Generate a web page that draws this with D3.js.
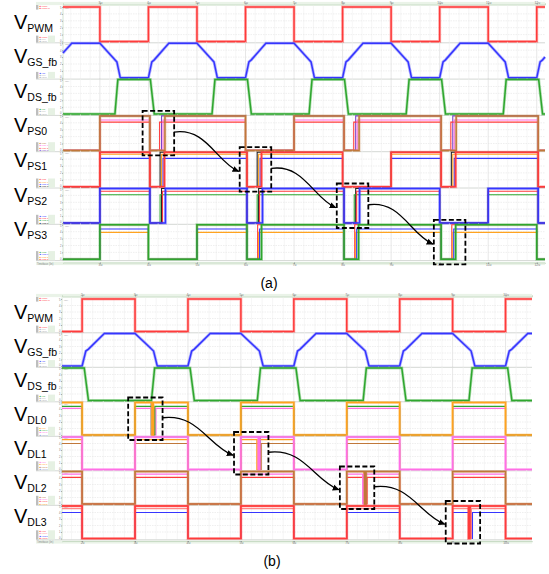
<!DOCTYPE html>
<html>
<head>
<meta charset="utf-8">
<script src="https://cdn.jsdelivr.net/npm/d3@7/dist/d3.min.js"></script>
<style>
body { margin: 0; background: #fff; }
svg text { font-family: "Liberation Sans", Arial, sans-serif; }
</style>
</head>
<body>
<script>
//////////////// Data: panel (a) ////////////////
var timeA = [2.24, 12.17];
var ticksA = [3, 4, 5, 6, 7, 8, 9, 10, 11, 12];
var namesA = ["PWM", "GS_fb", "DS_fb", "PS0", "PS1", "PS2", "PS3"];

var pwmA = [[2.24,5],[3,5],[3,0],[4,0],[4,5],[5,5],[5,0],[6,0],[6,5],[7,5],[7,0],[8,0],[8,5],[9,5],[9,0],
  [10,0],[10,5],[11,5],[11,0],[12,0],[12,5],[12.17,5]];
var gsA = [[2.24,3.6],[2.42,5],[3,5],[3.3,2.7],[3.35,2.3],[3.42,0],[4,0],[4.07,2.3],[4.12,2.6],[4.42,5],
  [5,5],[5.3,2.7],[5.35,2.3],[5.42,0],[6,0],[6.07,2.3],[6.12,2.6],[6.42,5],[7,5],[7.3,2.7],[7.35,2.3],[7.42,0],
  [8,0],[8.07,2.3],[8.12,2.6],[8.42,5],[9,5],[9.3,2.7],[9.35,2.3],[9.42,0],[10,0],[10.07,2.3],[10.12,2.6],[10.42,5],
  [11,5],[11.3,2.7],[11.35,2.3],[11.42,0],[12,0],[12.07,2.3],[12.12,2.6],[12.17,3.0]];
var dsA = [[2.24,0],[3.31,0],[3.37,5],[4.04,5],[4.12,0],[5.31,0],[5.37,5],[6.04,5],[6.12,0],[7.31,0],[7.37,5],
  [8.04,5],[8.12,0],[9.31,0],[9.37,5],[10.04,5],[10.12,0],[11.31,0],[11.37,5],[12.04,5],[12.12,0],[12.17,0]];

// phase-shift rows: long low intervals, short dips (start) and per-trace dip widths / high levels
var psLows = [
  [[2.24,3],[6,7]],
  [[2.24,3],[8,9]],
  [[2.24,3],[10,11]],
  [[2.24,3],[4,5],[12,12.17]]
];
var psDips = [
  [4.03, 8.03, 10.03, 12.03],
  [4.03, 6.03, 10.03, 12.03],
  [4.03, 6.03, 8.03, 12.03],
  [6.03, 8.03, 10.03]
];
var psLevels = [[5,4.4,4.1,5],[5,4.7,4.1,5],[5,4.6,4.1,5],[5,4.4,3.9,5]];
var psDipWidth = [[0.31,0.27,0.20,0.24],[0.30,0.24,0.27,0.21],[0.32,0.26,0.21,0.24],[0.30,0.26,0.24,0.22]];
var psMarked = [4.03, 6.03, 8.03, 10.03];

//////////////// Data: panel (b) ////////////////
var timeB = [1.62, 10.5];
var ticksB = [2, 3, 4, 5, 6, 7, 8, 9, 10];
var namesB = ["PWM", "GS_fb", "DS_fb", "DL0", "DL1", "DL2", "DL3"];

var pwmB = [[1.62,0],[2,0],[2,5],[3,5],[3,0],[4,0],[4,5],[5,5],[5,0],[6,0],[6,5],[7,5],[7,0],[8,0],[8,5],
  [9,5],[9,0],[10,0],[10,5],[10.5,5]];
var gsB = [[1.62,0],[2,0],[2.07,2.3],[2.12,2.6],[2.42,5],[3,5],[3.3,2.7],[3.35,2.3],[3.42,0],[4,0],[4.07,2.3],
  [4.12,2.6],[4.42,5],[5,5],[5.3,2.7],[5.35,2.3],[5.42,0],[6,0],[6.07,2.3],[6.12,2.6],[6.42,5],[7,5],[7.3,2.7],
  [7.35,2.3],[7.42,0],[8,0],[8.07,2.3],[8.12,2.6],[8.42,5],[9,5],[9.3,2.7],[9.35,2.3],[9.42,0],[10,0],[10.07,2.3],
  [10.12,2.6],[10.42,5],[10.5,5]];
var dsB = [[1.62,5],[2.04,5],[2.12,0],[3.31,0],[3.37,5],[4.04,5],[4.12,0],[5.31,0],[5.37,5],[6.04,5],[6.12,0],
  [7.31,0],[7.37,5],[8.04,5],[8.12,0],[9.31,0],[9.37,5],[10.04,5],[10.12,0],[10.5,0]];

var dlLows = [[2,3],[4,5],[6,7],[8,9],[10,10.5]];
var dlGlitch = [3.30, 5.30, 7.30, 9.30];
var dlLevels = [[5,4.4,4.1,5],[5,4.6,4.0,5],[5,4.6,4.1,5],[5,4.6,4.0,5]];
var dlShift = [[0.02,0.05,0.07,0.0],[0.03,0.0,0.06,0.045],[0.04,0.0,0.06,0.02],[0.0,0.03,0.05,0.015]];
var dlSpike = 0.025;

//////////////// Styles ////////////////
var cRed = "#ff3b3b", cBlue = "#3535ff", cGreen = "#2ea62e", cOrange = "#ffa31f", cPink = "#ff6fe6",
    cBrown = "#c0783a", cBlack = "#222", cPurple = "#7a44c8", cGrey = "#8a96c8";
var psColors = [[cBrown,cPink,cRed,cPurple],[cRed,cOrange,cBlue,cBlack],[cBlue,cRed,cGreen,cBlack],[cGreen,cBlue,cOrange,cRed]];
var dlColors = [[cOrange,cGreen,cPink,cGrey],[cPink,cOrange,cBrown,cGrey],[cBrown,cPink,cRed,cOrange],[cRed,"#ff8a8a",cBlue,cRed]];

//////////////// Helpers ////////////////
function stepPoints(t0, t1, lows, level) {
  var sorted = lows.slice().sort(function(p, q) { return p[0] - q[0]; });
  var startLow = sorted.some(function(l) { return l[0] <= t0 && l[1] > t0; });
  var pts = [[t0, startLow ? 0 : level]];
  sorted.forEach(function(l) {
    var a = Math.max(l[0], t0), b = Math.min(l[1], t1);
    if (b <= t0 || a >= t1) return;
    if (a > t0) { pts.push([a, level]); pts.push([a, 0]); }
    pts.push([b, 0]);
    if (b < t1) pts.push([b, level]);
  });
  var last = pts[pts.length - 1];
  if (last[0] < t1) pts.push([t1, last[1]]);
  return pts;
}

function psRow(r) {
  return psLevels[r].map(function(lv, k) {
    var lows = psLows[r].concat(psDips[r].map(function(d) { return [d, d + psDipWidth[r][k]]; }));
    return {pts: stepPoints(timeA[0], timeA[1], lows, lv), color: psColors[r][k], main: k === 0};
  });
}
function dlRow(r) {
  return dlLevels[r].map(function(lv, k) {
    var s = dlGlitch[r] + dlShift[r][k];
    var lows = dlLows.concat([[s, s + dlSpike]]);
    return {pts: stepPoints(timeB[0], timeB[1], lows, lv), color: dlColors[r][k], main: k === 0};
  });
}

var rowsA = [[{pts: pwmA, color: cRed, main: true}], [{pts: gsA, color: cBlue, main: true}],
  [{pts: dsA, color: cGreen, main: true}]].concat([0, 1, 2, 3].map(psRow));
var rowsB = [[{pts: pwmB, color: cRed, main: true}], [{pts: gsB, color: cBlue, main: true}],
  [{pts: dsB, color: cGreen, main: true}]].concat([0, 1, 2, 3].map(dlRow));

//////////////// SVG ////////////////
var svg = d3.select("body").append("svg").attr("width", 549).attr("height", 574);
var defs = svg.append("defs");
defs.append("marker").attr("id", "arr").attr("viewBox", "0 0 8 8").attr("refX", 7).attr("refY", 4)
  .attr("markerWidth", 7).attr("markerHeight", 7).attr("markerUnits", "userSpaceOnUse").attr("orient", "auto")
  .append("path").attr("d", "M0,0.5 L8,4 L0,7.5 Z").attr("fill", "#000");

function drawPanel(cfg) {
  var x = d3.scaleLinear().domain(cfg.time).range([cfg.x0, cfg.x1]);
  var g = svg.append("g");
  var minor = d3.range(Math.ceil(cfg.time[0] * 5) / 5, cfg.time[1], 0.2);
  var rowsY = [];

  // time axes
  [["top", cfg.axisTop], ["bottom", cfg.axisBot]].forEach(function(a) {
    g.append("rect").attr("x", 36).attr("y", a[1] - 1.6).attr("width", cfg.x1 - 36).attr("height", 3.2)
      .attr("fill", "#eaf3e8");
    var ax = (a[0] === "top" ? d3.axisTop(x) : d3.axisBottom(x)).tickValues(cfg.ticks).tickSize(1.2)
      .tickFormat(function(d) { return d + "u"; });
    g.append("g").attr("transform", "translate(0," + (a[0] === "top" ? a[1] + 1 : a[1] - 1) + ")").call(ax)
      .call(function(s) {
        s.select(".domain").attr("stroke", "#c9dcc6");
        s.selectAll(".tick line").attr("stroke", "#999");
        s.selectAll("text").attr("font-size", 3.4).attr("fill", "#777").attr("y", a[0] === "top" ? -0.6 : 0.8);
      });
  });
  g.append("text").attr("x", 37).attr("y", cfg.axisBot + 1.2).attr("font-size", 2.6).attr("fill", "#888")
    .text("Timebase (lin)");

  cfg.rows.forEach(function(traces, i) {
    var y5 = cfg.yTop + cfg.step * i, y0 = y5 + cfg.span;
    var y = d3.scaleLinear().domain([0, 5]).range([y0, y5]);
    rowsY.push({y5: y5, y0: y0});
    var r = g.append("g");

    // grid
    r.selectAll(null).data(minor).enter().append("line")
      .attr("x1", function(d) { return x(d); }).attr("x2", function(d) { return x(d); })
      .attr("y1", y5 - 1.5).attr("y2", y0 + 1.2)
      .attr("stroke", function(d) { return Math.abs(d - Math.round(d)) < 0.01 ? "#d6d6d6" : "#f0f0f0"; })
      .attr("stroke-width", 0.6);
    r.selectAll(null).data([1, 2, 3, 4]).enter().append("line")
      .attr("x1", cfg.x0).attr("x2", cfg.x1).attr("y1", y).attr("y2", y)
      .attr("stroke", "#e4e4e4").attr("stroke-width", 0.6).attr("stroke-dasharray", "1.5,1");
    // row separator and left rule
    r.append("line").attr("x1", 36).attr("x2", cfg.x1).attr("y1", y0 + 1.3).attr("y2", y0 + 1.3)
      .attr("stroke", "#d4d8d4").attr("stroke-width", 1);
    r.append("line").attr("x1", cfg.x0).attr("x2", cfg.x0).attr("y1", y5 - 1.5).attr("y2", y0 + 1.3)
      .attr("stroke", "#c8dcc8").attr("stroke-width", 0.8);
    r.append("g").attr("transform", "translate(" + cfg.x0 + ",0)")
      .call(d3.axisLeft(y).tickValues([0, 1, 2, 3, 4, 5]).tickSize(1).tickFormat(d3.format("d")))
      .call(function(s) {
        s.select(".domain").remove();
        s.selectAll("line").attr("stroke", "#aaa");
        s.selectAll("text").attr("font-size", 2.7).attr("fill", "#777").attr("x", -1.6)
          .attr("y", function(d) { return d === 5 ? 1 : (d === 0 ? -1 : 0); });
      });
    r.append("text").attr("x", cfg.x0 + 2).attr("y", y5 + 2).attr("font-size", 2.4).attr("fill", "#999")
      .text("(lin)");

    // legend, kept inside x 36..55 below the row label
    var short = cfg.names[i].replace("_fb", "").toLowerCase();
    var items = traces.map(function(t, k) { return {c: t.color, s: "V" + short + (k ? "." + k : "")}; });
    if (items.length < 3) items = items.concat([{c: "#aaa", s: "Vref"}, {c: "#aaa", s: "Vsum"}].slice(0, 3 - items.length));
    var h = items.length * 2.3;
    var lg = r.append("g").attr("transform", "translate(36," + (y0 + 1 - h) + ")");
    lg.append("rect").attr("width", 2.4).attr("height", h).attr("fill", "#bdbdbd");
    lg.append("rect").attr("x", 12).attr("width", 7).attr("height", h).attr("fill", "#e6f1e3");
    lg.selectAll(null).data(items).enter().append("text")
      .attr("x", 3.4).attr("y", function(d, k) { return 1.9 + k * 2.3; })
      .attr("font-size", 2.2).attr("fill", function(d) { return d.c; }).text(function(d) { return "\u25A0 " + d.s; });
    if (i === 0) {
      var tl = r.append("g").attr("transform", "translate(36," + (y5 - 2) + ")");
      tl.append("rect").attr("width", 2.4).attr("height", 4.6).attr("fill", "#bdbdbd");
      tl.selectAll(null).data(["Vpwm", "Vpwm.in"]).enter().append("text")
        .attr("x", 3.4).attr("y", function(d, k) { return 1.9 + k * 2.3; })
        .attr("font-size", 2.2).attr("fill", cRed).text(function(d) { return "\u25A0 " + d; });
    }

    // traces (secondary first, main on top)
    var line = d3.line().x(function(d) { return x(d[0]); }).y(function(d) { return y(d[1]); });
    traces.slice().reverse().forEach(function(t) {
      if (t.main) {
        r.append("path").attr("d", line(t.pts)).attr("fill", "none").attr("stroke", t.color)
          .attr("stroke-opacity", 0.35).attr("stroke-width", 3);
      }
      r.append("path").attr("d", line(t.pts)).attr("fill", "none").attr("stroke", t.color)
        .attr("stroke-width", t.main ? 1.5 : 1.1).attr("stroke-linejoin", "miter");
    });

    // row label
    var lab = g.append("text").attr("x", 14).attr("y", cfg.labelY0 + cfg.labelStep * i).attr("fill", "#000");
    lab.append("tspan").attr("font-size", 20).text("V");
    lab.append("tspan").attr("font-size", 10.5).attr("dy", 3).text(cfg.names[i]);
  });

  // highlighted events: dashed boxes and arrows
  var boxes = cfg.marked.map(function(t, k) {
    var ry = rowsY[3 + k];
    return {x0: x(t - cfg.before), x1: x(t + cfg.after), y0: ry.y5 - 5, y1: ry.y0 + 5, mid: (ry.y5 + ry.y0) / 2};
  });
  g.selectAll(null).data(boxes).enter().append("rect")
    .attr("x", function(d) { return d.x0; }).attr("y", function(d) { return d.y0; })
    .attr("width", function(d) { return d.x1 - d.x0; }).attr("height", function(d) { return d.y1 - d.y0; })
    .attr("fill", "none").attr("stroke", "#000").attr("stroke-width", 1.8).attr("stroke-dasharray", "5,2.5");
  boxes.slice(1).forEach(function(b, k) {
    var a = boxes[k];
    var sx = a.x1, sy = a.mid - 1, ex = b.x0 - 1, ey = b.mid + 2;
    var dx = ex - sx, dy = ey - sy;
    g.append("path")
      .attr("d", "M" + sx + "," + sy + " C" + (sx + 0.5 * dx) + "," + (sy - 0.12 * dy) + " " +
        (ex - 0.35 * dx) + "," + (ey - 0.25 * dy) + " " + ex + "," + ey)
      .attr("fill", "none").attr("stroke", "#000").attr("stroke-width", 1.3).attr("marker-end", "url(#arr)");
  });

  g.append("text").attr("x", cfg.tagX).attr("y", cfg.tagY).attr("text-anchor", "middle")
    .attr("font-size", 14).attr("fill", "#000").text(cfg.tag);
}

drawPanel({time: timeA, ticks: ticksA, names: namesA, rows: rowsA, x0: 63, x1: 545,
  yTop: 7, step: 36.3, span: 34.5, axisTop: 3.5, axisBot: 263.5, labelY0: 28.5, labelStep: 34.6,
  marked: psMarked, before: 0.15, after: 0.5, tag: "(a)", tagX: 269, tagY: 288});
drawPanel({time: timeB, ticks: ticksB, names: namesB, rows: rowsB, x0: 62, x1: 532,
  yTop: 299, step: 34.5, span: 32.5, axisTop: 295.5, axisBot: 542, labelY0: 319, labelStep: 34.0,
  marked: dlGlitch, before: 0.43, after: 0.22, tag: "(b)", tagX: 272, tagY: 566});
</script>
</body>
</html>
